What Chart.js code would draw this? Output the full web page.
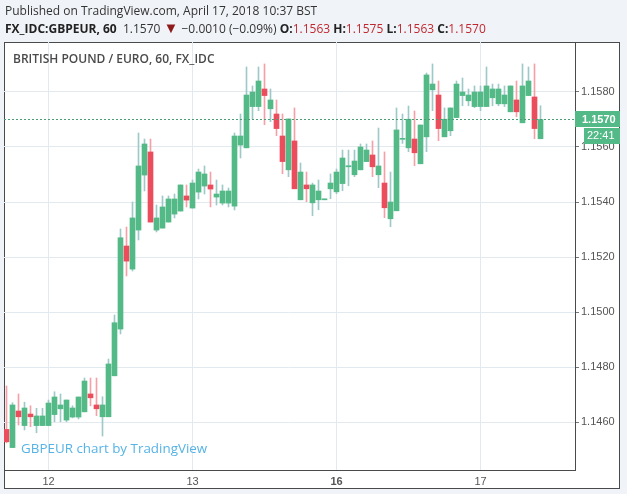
<!DOCTYPE html>
<html>
<head>
<meta charset="utf-8">
<script src="https://cdn.jsdelivr.net/npm/chart.js@4.4.1/dist/chart.umd.min.js"></script>
<style>
  html, body { margin: 0; padding: 0; background: #f0f3f7; }
  #wrap { position: relative; width: 627px; height: 494px; overflow: hidden; }
  canvas { position: absolute; left: 0; top: 0; }
  .txt { position: absolute; white-space: nowrap; font-family: 'Open Sans', sans-serif; }
  #l1 { left: 5px; top: 2px; font-size: 12px; line-height: 18px; color: #333; }
  #l2 { left: 5px; top: 20px; font-size: 12px; line-height: 18px; color: #333; }
  #l2 b { font-weight: bold; color: #222; }
  #l2 .r { color: #c0282f; }
  #l2 .tri { color: #8e1b1b; font-size: 15px; line-height: 12px; }
  #title { left: 13px; top: 51px; font-size: 12px; line-height: 16px; font-weight: 600; color: #4a4a4a; }
  #wm { left: 21px; top: 439px; font-size: 13.4px; line-height: 18px; color: #56b3e6; }
</style>
</head>
<body>
<div id="wrap">
  <canvas id="c" width="627" height="494"></canvas>
  <div class="txt" id="l1">Published on TradingView.com, April 17, 2018 10:37 BST</div>
  <div class="txt" id="l2"><b>FX_IDC:GBPEUR, 60</b>&nbsp; 1.1570 <span class="tri">&#9660;</span> &minus;0.0010 (&minus;0.09%) <b>O:</b><span class="r">1.1563</span> <b>H:</b><span class="r">1.1575</span> <b>L:</b><span class="r">1.1563</span> <b>C:</b><span class="r">1.1570</span></div>
  <div class="txt" id="title">BRITISH POUND / EURO, 60, FX_IDC</div>
  <div class="txt" id="wm">GBPEUR chart by TradingView</div>
</div>
<script>
// hourly candles, Apr 11 17:00 -> Apr 17 10:00 (weekend hours removed)
const opens = [
  1.14573, 1.14507, 1.14640, 1.14587, 1.14629, 1.14587, 1.14587, 1.14587, 1.14627, 1.14648,
  1.14607, 1.14618, 1.14618, 1.14637, 1.14702, 1.14662, 1.14619, 1.14619, 1.14768, 1.14938,
  1.15240, 1.15156, 1.15298, 1.15498, 1.15582, 1.15298, 1.15305, 1.15327, 1.15356, 1.15367,
  1.15422, 1.15378, 1.15436, 1.15458, 1.15462, 1.15418, 1.15396, 1.15396, 1.15385, 1.15607,
  1.15597, 1.15747, 1.15747, 1.15811, 1.15739, 1.15720, 1.15640, 1.15517, 1.15622, 1.15408,
  1.15462, 1.15397, 1.15408, 1.15408, 1.15448, 1.15437, 1.15467, 1.15528, 1.15499, 1.15517,
  1.15547, 1.15571, 1.15499, 1.15469, 1.15339, 1.15368, 1.15628, 1.15597, 1.15629, 1.15539,
  1.15637, 1.15808, 1.15789, 1.15637, 1.15659, 1.15707, 1.15787, 1.15768, 1.15747, 1.15747,
  1.15747, 1.15779, 1.15757, 1.15757, 1.15728, 1.15771, 1.15688, 1.15787, 1.15782, 1.15630
];
const highs = [
  1.14731, 1.14670, 1.14702, 1.14672, 1.14659, 1.14650, 1.14650, 1.14680, 1.14710, 1.14702,
  1.14680, 1.14659, 1.14691, 1.14760, 1.14760, 1.14760, 1.14692, 1.14829, 1.14989, 1.15302,
  1.15309, 1.15400, 1.15651, 1.15629, 1.15629, 1.15389, 1.15422, 1.15422, 1.15429, 1.15462,
  1.15462, 1.15480, 1.15520, 1.15531, 1.15509, 1.15480, 1.15462, 1.15451, 1.15651, 1.15720,
  1.15891, 1.15822, 1.15891, 1.15902, 1.15811, 1.15771, 1.15720, 1.15702, 1.15742, 1.15542,
  1.15509, 1.15469, 1.15480, 1.15411, 1.15502, 1.15520, 1.15589, 1.15589, 1.15589, 1.15611,
  1.15611, 1.15622, 1.15669, 1.15582, 1.15509, 1.15742, 1.15720, 1.15749, 1.15731, 1.15680,
  1.15869, 1.15902, 1.15840, 1.15742, 1.15742, 1.15840, 1.15851, 1.15811, 1.15822, 1.15822,
  1.15891, 1.15829, 1.15829, 1.15822, 1.15822, 1.15840, 1.15902, 1.15891, 1.15902, 1.15750
];
const lows = [
  1.14524, 1.14507, 1.14589, 1.14571, 1.14583, 1.14561, 1.14587, 1.14587, 1.14601, 1.14601,
  1.14601, 1.14615, 1.14611, 1.14637, 1.14659, 1.14623, 1.14549, 1.14619, 1.14768, 1.14920,
  1.15131, 1.15149, 1.15262, 1.15440, 1.15327, 1.15291, 1.15305, 1.15327, 1.15342, 1.15367,
  1.15382, 1.15378, 1.15411, 1.15429, 1.15382, 1.15389, 1.15389, 1.15382, 1.15371, 1.15560,
  1.15597, 1.15702, 1.15732, 1.15681, 1.15692, 1.15641, 1.15503, 1.15492, 1.15448, 1.15408,
  1.15401, 1.15350, 1.15372, 1.15408, 1.15412, 1.15430, 1.15441, 1.15459, 1.15492, 1.15517,
  1.15547, 1.15492, 1.15452, 1.15343, 1.15310, 1.15368, 1.15613, 1.15583, 1.15532, 1.15539,
  1.15583, 1.15732, 1.15623, 1.15637, 1.15641, 1.15707, 1.15750, 1.15750, 1.15743, 1.15732,
  1.15747, 1.15750, 1.15750, 1.15747, 1.15728, 1.15710, 1.15688, 1.15787, 1.15630, 1.15630
];
const closes = [
  1.14528, 1.14662, 1.14619, 1.14651, 1.14619, 1.14622, 1.14622, 1.14669, 1.14691, 1.14662,
  1.14680, 1.14651, 1.14691, 1.14749, 1.14688, 1.14648, 1.14662, 1.14811, 1.14961, 1.15270,
  1.15185, 1.15342, 1.15531, 1.15611, 1.15327, 1.15342, 1.15382, 1.15411, 1.15411, 1.15462,
  1.15407, 1.15469, 1.15509, 1.15502, 1.15447, 1.15429, 1.15440, 1.15440, 1.15640, 1.15640,
  1.15789, 1.15800, 1.15840, 1.15787, 1.15771, 1.15667, 1.15547, 1.15702, 1.15448, 1.15509,
  1.15448, 1.15462, 1.15440, 1.15411, 1.15469, 1.15509, 1.15560, 1.15532, 1.15549, 1.15600,
  1.15589, 1.15528, 1.15531, 1.15379, 1.15400, 1.15662, 1.15630, 1.15701, 1.15579, 1.15680,
  1.15862, 1.15829, 1.15667, 1.15701, 1.15742, 1.15829, 1.15800, 1.15789, 1.15800, 1.15800,
  1.15822, 1.15811, 1.15811, 1.15789, 1.15822, 1.15728, 1.15822, 1.15840, 1.15667, 1.15700
];

// day separators (candle index of 00:00) and their labels
const dayTicks = [7, 31, 55, 79];
const dayLabels = ['12', '13', '16', '17'];
const priceTicks = [1.146, 1.148, 1.150, 1.152, 1.154, 1.156, 1.158];
const lastPrice = 1.1570;
const countdown = '22:41';

const UP = '#53b987', DOWN = '#eb4d5c';
const UP_WICK = '#9dc9c9', DOWN_WICK = '#f5a0a8';

const isUp = opens.map((o, i) => closes[i] >= o);
const wicks = lows.map((l, i) => ({ x: i, y: [l, highs[i]] }));
const bodies = opens.map((o, i) => ({ x: i, y: [o, closes[i]] }));

// white frame, last price line and its tags
const frame = {
  id: 'frame',
  beforeDraw(chart) {
    const ctx = chart.ctx;
    ctx.save();
    ctx.fillStyle = '#fff';
    ctx.fillRect(4, 42, 616, 447);
    ctx.strokeStyle = '#4a4a4a';
    ctx.lineWidth = 1;
    ctx.strokeRect(4.5, 42.5, 615, 446);
    ctx.restore();
  },
  afterDraw(chart) {
    const ctx = chart.ctx;
    const a = chart.chartArea;
    const y = Math.round(chart.scales.y.getPixelForValue(lastPrice)) + 0.5;
    ctx.save();
    ctx.strokeStyle = '#4a9d74';
    ctx.setLineDash([2, 2]);
    ctx.beginPath();
    ctx.moveTo(a.left, y);
    ctx.lineTo(a.right, y);
    ctx.stroke();
    ctx.setLineDash([]);
    ctx.fillStyle = UP;
    ctx.fillRect(a.right, y - 8.5, 45, 16);
    ctx.fillRect(a.right + 9, y + 8.5, 36, 16);
    ctx.fillStyle = '#fff';
    ctx.textBaseline = 'middle';
    ctx.font = 'bold 11px "Liberation Sans", Arial, sans-serif';
    ctx.fillText(lastPrice.toFixed(4), a.right + 7, y);
    ctx.font = '11px "Liberation Sans", Arial, sans-serif';
    ctx.fillText(countdown, a.right + 12, y + 16.5);
    ctx.restore();
  }
};

new Chart(document.getElementById('c'), {
  type: 'bar',
  data: {
    datasets: [
      {
        data: wicks,
        grouped: false,
        barThickness: 1,
        backgroundColor: isUp.map(u => u ? UP_WICK : DOWN_WICK),
        borderWidth: 0,
        order: 2,
      },
      {
        data: bodies,
        grouped: false,
        barThickness: 5,
        minBarLength: 1,
        backgroundColor: isUp.map(u => u ? UP : DOWN),
        borderWidth: 0,
        order: 1,
      },
    ],
  },
  options: {
    responsive: false,
    animation: false,
    devicePixelRatio: 1,
    layout: { padding: { left: 4, top: 42, right: 7, bottom: 5 } },
    plugins: { legend: { display: false }, tooltip: { enabled: false } },
    scales: {
      x: {
        type: 'linear',
        min: -0.41667,
        max: 94.75,
        offset: false,
        grid: { offset: false, color: '#e2eaf0', drawTicks: false },
        border: { display: true, color: '#4a4a4a' },
        afterBuildTicks: (s) => { s.ticks = dayTicks.map(v => ({ value: v })); },
        afterFit: (s) => { s.height = 19; },
        ticks: {
          autoSkip: false,
          maxRotation: 0,
          padding: 5,
          color: '#555',
          font: (c) => ({
            family: '"Liberation Sans", Arial, sans-serif',
            size: 11,
            weight: c.tick && c.tick.value === 55 ? 'bold' : 'normal',
          }),
          callback: (v) => dayLabels[dayTicks.indexOf(v)],
        },
      },
      y: {
        type: 'linear',
        position: 'right',
        min: 1.144255,
        max: 1.159818,
        grid: { color: '#e2eaf0', tickLength: 4, tickColor: '#777' },
        border: { display: true, color: '#4a4a4a' },
        afterBuildTicks: (s) => { s.ticks = priceTicks.map(v => ({ value: v })); },
        afterFit: (s) => { s.width = 45; },
        ticks: {
          padding: 2,
          color: '#555',
          font: { family: '"Liberation Sans", Arial, sans-serif', size: 11 },
          callback: (v) => v.toFixed(4),
        },
      },
    },
  },
  plugins: [frame],
});
</script>
</body>
</html>
